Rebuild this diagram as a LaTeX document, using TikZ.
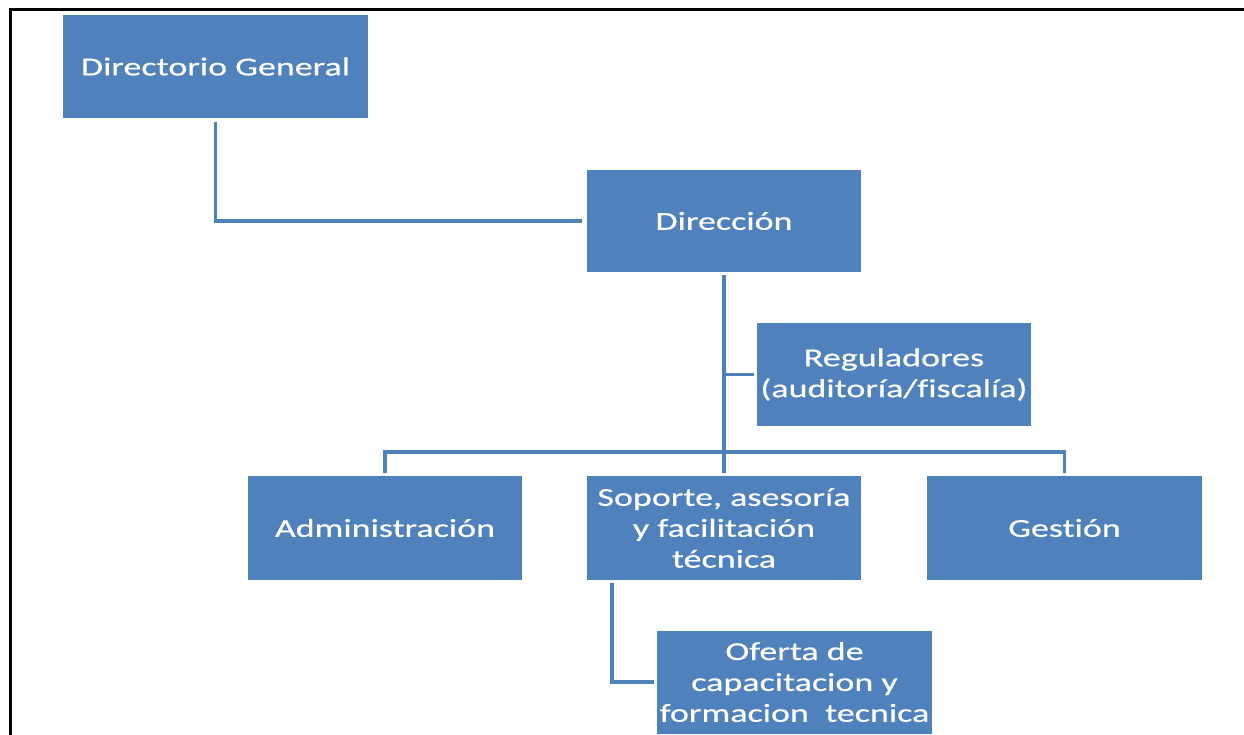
\documentclass[tikz,border=0pt]{standalone}
\usepackage{fontspec}
\setmainfont{Carlito}[FakeStretch=1.39, FakeBold=0.4, Ligatures=NoCommon]
\definecolor{boxblue}{HTML}{4F81BD}
\tikzset{
  orgbox/.style={rectangle, fill=boxblue, inner sep=0pt, text=white, align=center,
    minimum width=274bp, minimum height=103bp, font=\fontsize{26}{31}\selectfont},
  conn/.style={draw=boxblue, line width=3.8bp, line cap=rect},
  frameline/.style={draw=black, line width=3bp}
}
\begin{document}
\begin{tikzpicture}[x=1bp,y=-1bp]
\useasboundingbox (0,0) rectangle (1244,735);
\draw[frameline] (10,735) -- (10,10) -- (1244,10);
\node[orgbox, minimum width=305bp] (dg) at (215.5,66.5) {Directorio General};
\node[orgbox, minimum height=102bp] (dir) at (724,221) {Dirección};
\node[orgbox] (reg) at (894,374.5) {Reguladores\\(auditoría/fiscalía)};
\node[orgbox, minimum height=104bp] (adm) at (385,528) {Administración};
\node[orgbox, minimum height=104bp] (sop) at (724,528) {Soporte, asesoría\\y facilitación\\técnica};
\node[orgbox, minimum width=275bp, minimum height=104bp] (ges) at (1064.5,528) {Gestión};
\node[orgbox, minimum width=275bp] (ofe) at (794.5,682) {Oferta de\\capacitacion y\\formacion\ \ tecnica};
\coordinate (bus) at (724,452);
\draw[conn, shorten <=6bp, shorten >=7bp] (dg.south) |- (dir.west);
\draw[conn, shorten <=5bp, shorten >=5bp] (dir.south) -- (sop.north);
\draw[conn, shorten >=5bp] (dir.south |- reg.west) -- (reg.west);
\draw[conn, shorten <=5bp, shorten >=5bp] (adm.north) |- (bus) -| (ges.north);
\draw[conn, shorten <=5bp, shorten >=5bp] ([xshift=25bp]sop.south west) |- (ofe.west);
\end{tikzpicture}
\end{document}
